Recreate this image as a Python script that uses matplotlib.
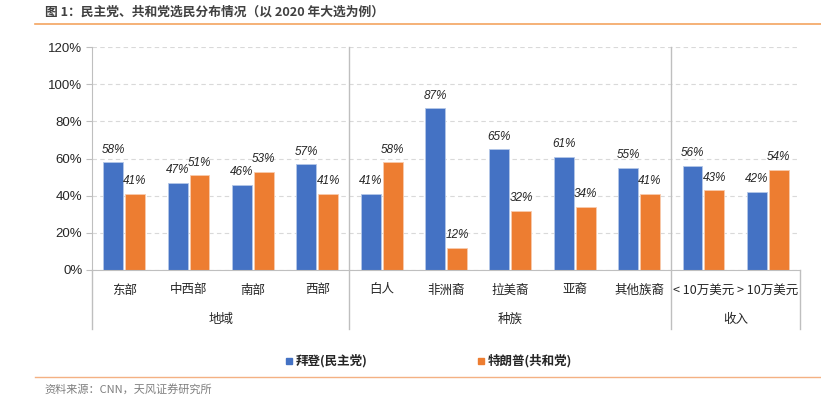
import numpy as np
import matplotlib as mpl
mpl.use('Agg')
import matplotlib.pyplot as plt
from matplotlib.patches import Rectangle
from matplotlib.transforms import blended_transform_factory

plt.rcParams['font.family'] = ['Noto Sans CJK SC', 'DejaVu Sans']

categories = ["东部", "中西部", "南部", "西部", "白人", "非洲裔", "拉美裔", "亚裔", "其他族裔", "< 10万美元", "> 10万美元"]
groups = ["地域", "种族", "收入"]
group_sizes = [4, 5, 2]
biden = [58, 47, 46, 57, 41, 87, 65, 61, 55, 56, 42]
trump = [41, 51, 53, 41, 58, 12, 32, 34, 41, 43, 54]
series_names = ["拜登(民主党)", "特朗普(共和党)"]

blue = "#4472C4"
orange = "#ED7D31"
gridc = "#D9D9D9"
txt = "#262626"

fig = plt.figure(figsize=(8.21, 3.99), dpi=100)
ax = fig.add_axes([92/821, 129/399, 708/821, 223/399])

x = np.arange(len(categories))
w = 0.31
b1 = ax.bar(x - w/2 - 0.015, np.array(biden)/100, w, color=blue, edgecolor="#B4C7E7", linewidth=0.6)
b2 = ax.bar(x + w/2 + 0.015, np.array(trump)/100, w, color=orange, edgecolor="#F8CBAD", linewidth=0.6)
for bars, vals in ((b1, biden), (b2, trump)):
    for r, v in zip(bars, vals):
        ax.text(r.get_x() + r.get_width()/2, r.get_height() + 0.035, "%d%%" % v,
                ha="center", va="bottom", fontsize=8.5, style="italic", color=txt,
                family="Liberation Sans")

ax.set_xlim(-0.5, len(categories) - 0.5)
ax.set_ylim(0, 1.2)
yt = np.arange(0, 121, 20)
ax.set_yticks(yt/100)
ax.set_yticklabels(["%d%%" % t for t in yt], family="Liberation Sans", fontsize=9.5, color=txt)
ax.yaxis.grid(True, linestyle=(0, (4, 3)), color=gridc, linewidth=0.8)
ax.set_axisbelow(True)
for s in ("top", "right"):
    ax.spines[s].set_visible(False)
ax.spines["left"].set_color("#BFBFBF")
ax.spines["bottom"].set_color("#BFBFBF")
ax.tick_params(axis="y", length=4, color="#BFBFBF", pad=3)
ax.set_xticks([])

# group separators and the lower category box
tr = blended_transform_factory(ax.transData, ax.transAxes)
edges = np.cumsum([0] + group_sizes) - 0.5
low = -59/223
for i, e in enumerate(edges):
    top = 1.0 if 0 < i < len(edges) - 1 else 0
    ax.plot([e, e], [low, top], transform=tr, color="#BFBFBF", linewidth=1, clip_on=False)
for xi, c in zip(x, categories):
    ax.text(xi, -20/223, c, transform=tr, ha="center", va="center", fontsize=9, color=txt)
for i, g in enumerate(groups):
    ax.text((edges[i] + edges[i+1])/2, -49/223, g, transform=tr, ha="center", va="center",
            fontsize=9, color=txt)

# legend
fig.patches.append(Rectangle((286/821, 1 - 364/399), 6/821, 6/399, transform=fig.transFigure, color=blue))
fig.text(296/821, 1 - 361/399, series_names[0], fontsize=9, weight="bold", va="center", color=txt)
fig.patches.append(Rectangle((478/821, 1 - 364/399), 6/821, 6/399, transform=fig.transFigure, color=orange))
fig.text(488/821, 1 - 361/399, series_names[1], fontsize=9, weight="bold", va="center", color=txt)

# title and source
fig.text(45/821, 1 - 12/399, "图 1：民主党、共和党选民分布情况（以 2020 年大选为例）", fontsize=9.2,
         weight="bold", color="#404040", va="center")
fig.lines.append(plt.Line2D([35/821, 1], [1 - 24/399] * 2, transform=fig.transFigure, color="#F4A460", linewidth=1.2))
fig.lines.append(plt.Line2D([35/821, 1], [1 - 377/399] * 2, transform=fig.transFigure, color="#F4B183", linewidth=1.0))
fig.text(44/821, 1 - 389/399, "资料来源：CNN，天风证券研究所", fontsize=8, color="#7F7F7F", va="center")

plt.savefig("out.png", dpi=100)
